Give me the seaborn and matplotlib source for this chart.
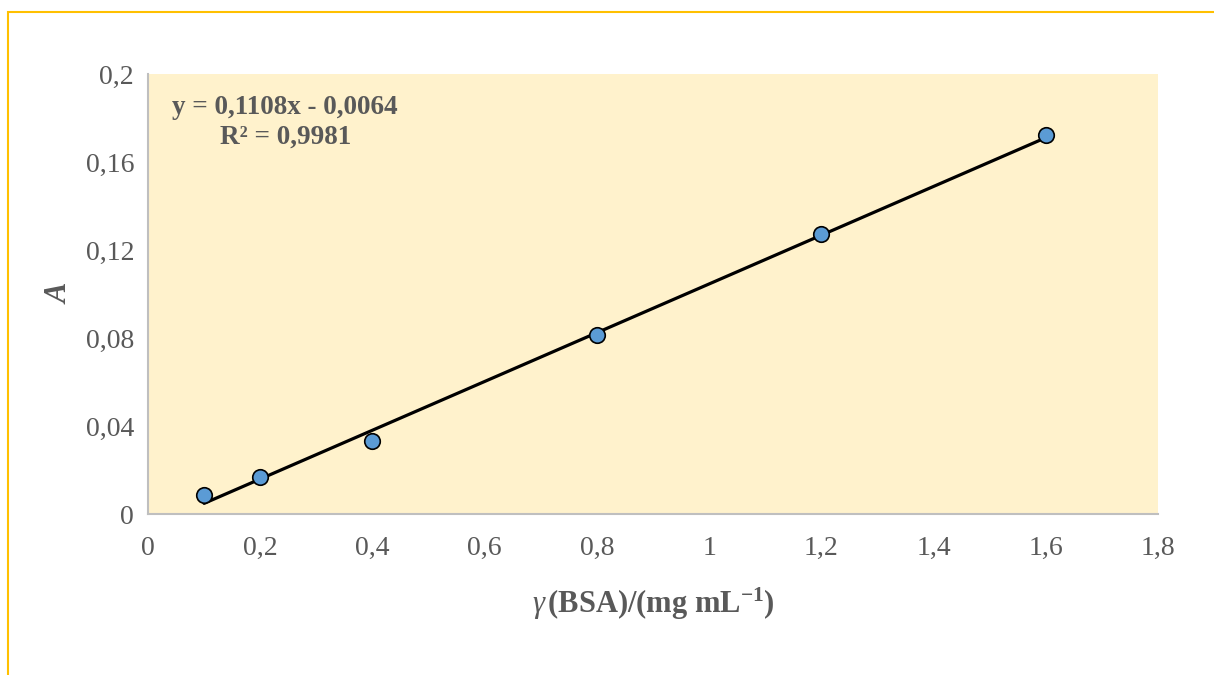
import numpy as np
import pandas as pd
import seaborn as sns
import matplotlib.pyplot as plt
from matplotlib.patches import Rectangle

# BSA calibration data
conc = [0.1, 0.2, 0.4, 0.8, 1.2, 1.6]
absorb = [0.0086, 0.0166, 0.0332, 0.0812, 0.1272, 0.1722]
x_ticks = [0, 0.2, 0.4, 0.6, 0.8, 1.0, 1.2, 1.4, 1.6, 1.8]
y_ticks = [0, 0.04, 0.08, 0.12, 0.16, 0.2]
eq_text = "y = 0,1108x - 0,0064"
r2_text = "R² = 0,9981"

df = pd.DataFrame({"conc": conc, "A": absorb})

sns.set_style("white")
plt.rcParams["font.family"] = ["Liberation Serif", "DejaVu Serif"]
plt.rcParams["mathtext.fontset"] = "custom"
plt.rcParams["mathtext.rm"] = "Liberation Serif"
plt.rcParams["mathtext.it"] = "Liberation Serif:italic"
plt.rcParams["mathtext.bf"] = "Liberation Serif:bold"
grey = "#595959"

fig = plt.figure(figsize=(12.14, 6.75), dpi=100)
fig.patches.append(Rectangle((8 / 1214, -0.1), 1.2, 1 - 12 / 675 + 0.1,
                             transform=fig.transFigure, fill=False,
                             edgecolor="#FFC000", linewidth=1.5))
ax = fig.add_axes([148 / 1214, 1 - 514 / 675, 1010 / 1214, 440 / 675])
ax.set_facecolor("#FFF2CC")

sns.regplot(data=df, x="conc", y="A", ci=None, ax=ax, scatter=False,
            truncate=True, line_kws=dict(color="black", linewidth=2.3, zorder=2))
sns.scatterplot(data=df, x="conc", y="A", ax=ax, color="#5B9BD5",
                edgecolor="black", linewidth=1.2, s=125, zorder=3)

ax.set_xlim(0, 1.8)
ax.set_ylim(0, 0.2)
ax.set_xticks(x_ticks)
ax.set_yticks(y_ticks)
fmt = lambda v: ("%g" % v).replace(".", ",")
ax.set_xticklabels([fmt(v) for v in x_ticks])
ax.set_yticklabels([fmt(v) for v in y_ticks])
ax.tick_params(axis="both", length=0, labelsize=20, colors=grey)
ax.tick_params(axis="x", pad=16)
ax.tick_params(axis="y", pad=10)

for s in ["top", "right"]:
    ax.spines[s].set_visible(False)
for s in ["left", "bottom"]:
    ax.spines[s].set_color("#BFBFBF")
    ax.spines[s].set_linewidth(1.5)

ax.set_xlabel(r"$\mathit{\gamma}\,$" + "(BSA)/(mg mL$^{\\mathbf{-1}}$)", fontsize=22,
              fontweight="bold", color=grey, labelpad=18)
ax.set_ylabel("A", fontsize=22, fontweight="bold", fontstyle="italic",
              color=grey, labelpad=8)

ax.text(0.043, 0.185, eq_text, fontsize=19.5, fontweight="bold", color=grey,
        va="center", ha="left")
ax.text(0.128, 0.1715, r2_text, fontsize=19.5, fontweight="bold", color=grey,
        va="center", ha="left")

fig.savefig("out.png", dpi=100)
